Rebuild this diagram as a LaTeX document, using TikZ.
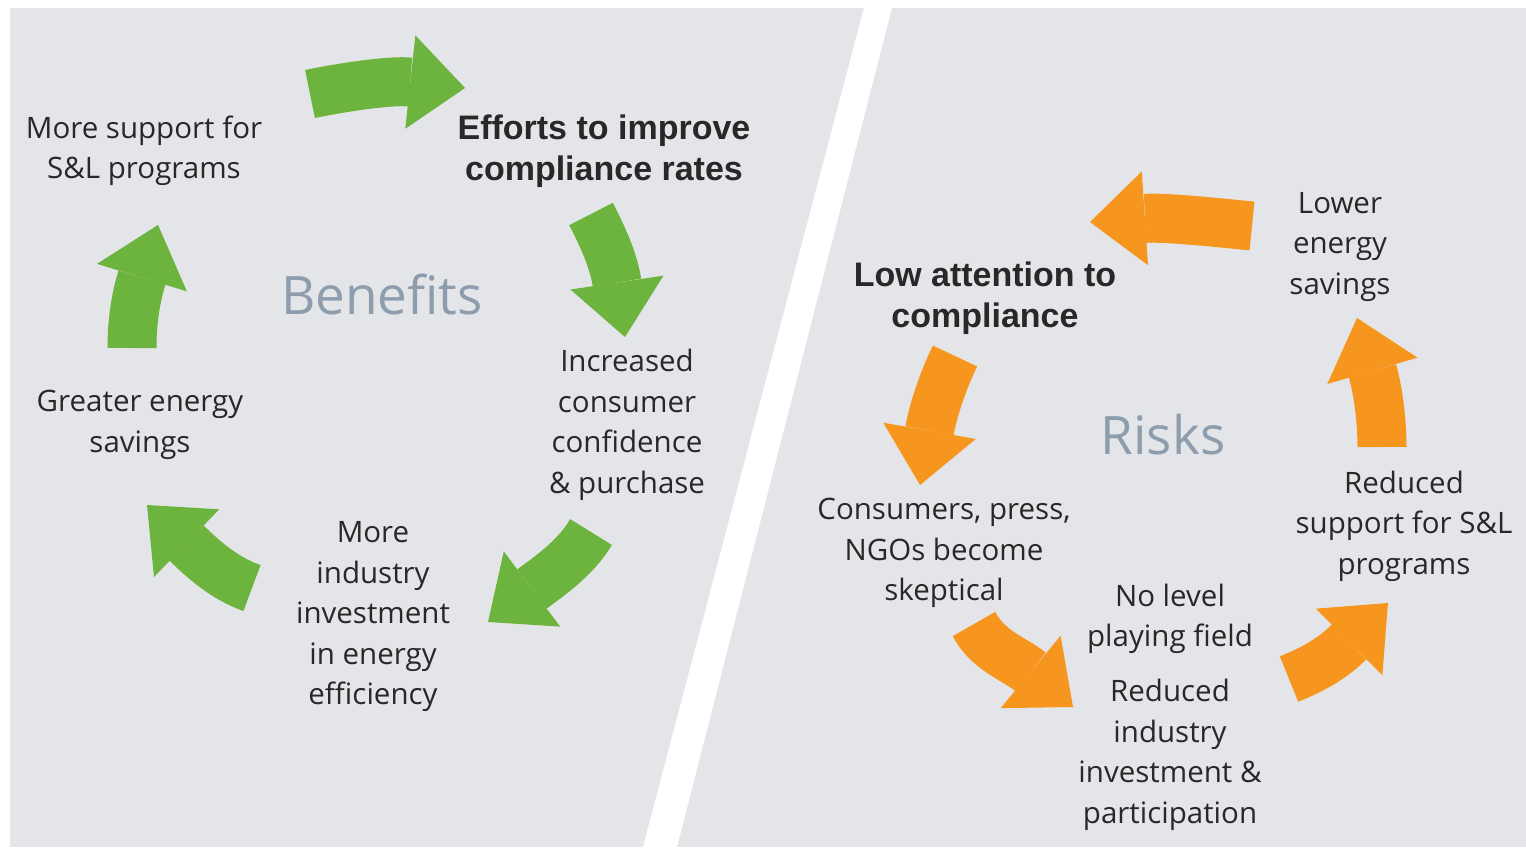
\documentclass[tikz,border=0pt]{standalone}
\usepackage{fontspec}
\setmainfont{Open Sans}
\newfontfamily\headfont{Liberation Sans}
\usetikzlibrary{arrows.meta}
\definecolor{panelgray}{RGB}{227,229,232}
\definecolor{leafgreen}{RGB}{108,180,62}
\definecolor{riskorange}{RGB}{247,150,30}
\definecolor{ink}{RGB}{40,40,40}
\definecolor{titlegray}{RGB}{141,157,174}
\newcommand{\shaft}{49pt}

\begin{document}
\begin{tikzpicture}[x=1pt,y=-1pt,
    txt/.style={align=center, inner sep=0pt, text=ink, font=\fontsize{29.5}{40.5}\selectfont},
    head/.style={txt, font=\headfont\bfseries\fontsize{34}{41.5}\selectfont},
    title/.style={inner sep=0pt, text=titlegray, font=\fontsize{53}{60}\selectfont},
    cyc/.style={line width=\shaft, -{Triangle[width=94pt,length=55pt,line width=0pt]}}]
    \useasboundingbox (0,0) rectangle (1526,847);
    \fill[white] (0,0) rectangle (1526,847);
    \fill[panelgray] (10,8) rectangle (1526,847);
    \fill[white] (866,0) -- (894,0) -- (677,847) -- (643,847) -- cycle;

    % Benefits
    \node[txt] (ben-1) at (144,151) {More support for\\S\&L programs};
    \node[head] (ben-2) at (604,151) {Efforts to improve\\compliance rates};
    \node[txt] (ben-3) at (627,425) {Increased\\consumer\\confidence\\\& purchase};
    \node[txt] (ben-4) at (373,617) {More\\industry\\investment\\in energy\\efficiency};
    \node[txt] (ben-5) at (140,425) {Greater energy\\savings};
    \node[title] (ben-title) at (382,294) {Benefits};

    \coordinate (ben-a1-s) at (310,94);   \coordinate (ben-a1-t) at (465,88);
    \coordinate (ben-a2-s) at (591,214);  \coordinate (ben-a2-t) at (625,337);
    \coordinate (ben-a3-s) at (591,532);  \coordinate (ben-a3-t) at (488,622);
    \coordinate (ben-a4-s) at (252,588);  \coordinate (ben-a4-t) at (147,505);
    \coordinate (ben-a5-s) at (132,348);  \coordinate (ben-a5-t) at (158,225);

    \draw[cyc, leafgreen] (ben-a1-s) .. controls (344,87) and (391,80) .. (ben-a1-t);
    \draw[cyc, leafgreen] (ben-a2-s) .. controls (605,241) and (614,263) .. (ben-a2-t);
    \draw[cyc, leafgreen] (ben-a3-s) .. controls (576,558) and (548,577) .. (ben-a3-t);
    \draw[cyc, leafgreen] (ben-a4-s) .. controls (223,578) and (201,557) .. (ben-a4-t);
    \draw[cyc, leafgreen] (ben-a5-s) .. controls (132,320) and (136,297) .. (ben-a5-t);

    % Risks
    \node[head] (risk-1) at (985,298) {Low attention to\\compliance};
    \node[txt] (risk-2) at (944,553) {Consumers, press,\\NGOs become\\skeptical};
    \node[txt] (risk-3) at (1170,619) {No level\\playing field};
    \node[txt] (risk-4) at (1170,755) {Reduced\\industry\\investment \&\\participation};
    \node[txt] (risk-5) at (1404,526) {Reduced\\support for S\&L\\programs};
    \node[txt] (risk-6) at (1340,247) {Lower\\energy\\savings};
    \node[title] (risk-title) at (1163,435) {Risks};

    \coordinate (risk-a1-s) at (1252,226); \coordinate (risk-a1-t) at (1090,222);
    \coordinate (risk-a2-s) at (955,356);  \coordinate (risk-a2-t) at (920,485);
    \coordinate (risk-a3-s) at (974,624);  \coordinate (risk-a3-t) at (1073,707);
    \coordinate (risk-a4-s) at (1289,679); \coordinate (risk-a4-t) at (1388,603);
    \coordinate (risk-a5-s) at (1382,447); \coordinate (risk-a5-t) at (1357,318);

    \draw[cyc, riskorange] (risk-a1-s) .. controls (1222,223) and (1165,217) .. (risk-a1-t);
    \draw[cyc, riskorange] (risk-a2-s) .. controls (942,383) and (933,411) .. (risk-a2-t);
    \draw[cyc, riskorange] (risk-a3-s) .. controls (988,651) and (1015,659) .. (risk-a3-t);
    \draw[cyc, riskorange] (risk-a4-s) .. controls (1317,668) and (1335,656) .. (risk-a4-t);
    \draw[cyc, riskorange] (risk-a5-s) .. controls (1382,420) and (1378,390) .. (risk-a5-t);
\end{tikzpicture}
\end{document}
